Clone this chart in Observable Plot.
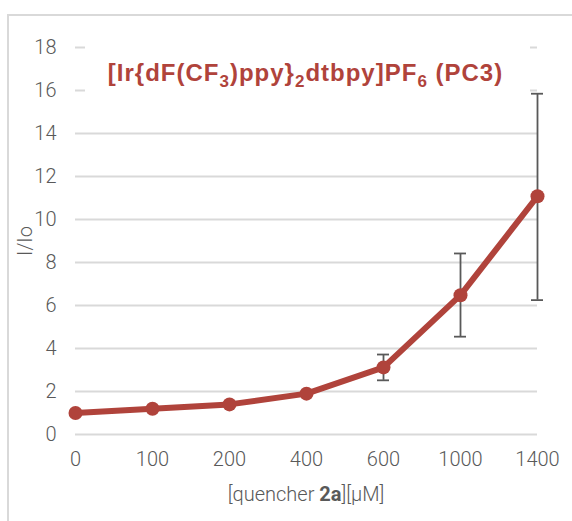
<!DOCTYPE html>
<html><head><meta charset="utf-8">
<script src="https://cdn.jsdelivr.net/npm/d3@7"></script>
<script src="https://cdn.jsdelivr.net/npm/@observablehq/plot@0.6"></script>
<style>
html,body{margin:0;padding:0;background:#fff;}
#wrap{position:relative;width:572px;height:521px;overflow:hidden;}
#frame{position:absolute;left:7px;top:14px;width:600px;height:600px;border:2px solid #d9d9d9;box-sizing:border-box;}
#titlebg{position:absolute;left:85px;top:38px;width:445px;height:62px;background:#fff;}
#title{position:absolute;left:0;width:611px;top:59px;text-align:center;font-family:"Liberation Sans",Arial,sans-serif;font-weight:bold;font-size:24px;letter-spacing:1px;color:#B0433B;white-space:nowrap;}
#title sub{font-size:17px;vertical-align:-6px;line-height:0;}
#xtitle{position:absolute;left:0;width:612px;top:482px;text-align:center;font-family:Roboto,sans-serif;font-weight:300;font-size:20px;color:#595959;}
#ytitle{position:absolute;left:25px;top:241px;transform:translate(-50%,-50%) rotate(-90deg);font-family:Roboto,sans-serif;font-weight:300;font-size:20px;color:#595959;white-space:nowrap;}
svg{position:absolute;left:0;top:0;}
</style></head>
<body><div id="wrap"><div id="frame"></div></div>
<script>
const categories = ["0","100","200","400","600","1000","1400"];
const values = [1.0, 1.2, 1.4, 1.9, 3.12, 6.48, 11.08];
const errCategories = ["600","1000","1400"];
const errLow = [2.52, 4.55, 6.25];
const errHigh = [3.72, 8.42, 15.85];
const yTicks = [0,2,4,6,8,10,12,14,16,18];

const data = categories.map((c,i)=>({c, v: values[i]}));
const errs = errCategories.map((c,i)=>({c, lo: errLow[i], hi: errHigh[i]}));
const red = "#B0433B";

const chart = Plot.plot({
  width: 572, height: 521,
  marginLeft: 75, marginRight: 35, marginTop: 47, marginBottom: 87,
  style: {background: "transparent", fontFamily: "Roboto, sans-serif", fontWeight: 300, fontSize: "20px", color: "#595959"},
  x: {type: "point", domain: categories, padding: 0, label: null},
  y: {domain: [0,18], ticks: yTicks, label: null},
  marks: [
    Plot.ruleY(yTicks, {stroke: "#d9d9d9", strokeWidth: 2, strokeOpacity: 1}),
    Plot.axisX({tickSize: 0, tickPadding: 17, fontSize: 20, fill: "#595959"}),
    Plot.axisY({ticks: yTicks, tickSize: 0, tickPadding: 19, fontSize: 20, fill: "#595959"}),
    Plot.line(data, {x: "c", y: "v", stroke: red, strokeWidth: 6}),
    Plot.ruleX(errs, {x: "c", y1: "lo", y2: "hi", stroke: "#595959", strokeWidth: 1.8}),
    Plot.ruleY(errs, {x1: "c", x2: "c", y: "lo", stroke: "#595959", strokeWidth: 1.8, insetLeft: -6, insetRight: -6}),
    Plot.ruleY(errs, {x1: "c", x2: "c", y: "hi", stroke: "#595959", strokeWidth: 1.8, insetLeft: -6, insetRight: -6}),
    Plot.dot(data, {x: "c", y: "v", r: 7, fill: red, stroke: "none"})
  ]
});
const wrap = document.getElementById("wrap");
wrap.appendChild(chart);
const bg = document.createElement("div"); bg.id = "titlebg"; wrap.appendChild(bg);
const t = document.createElement("div"); t.id = "title";
t.innerHTML = '[Ir{dF(CF<sub>3</sub>)ppy}<sub>2</sub>dtbpy]PF<sub>6</sub> (PC3)';
wrap.appendChild(t);
const xt = document.createElement("div"); xt.id = "xtitle";
xt.innerHTML = '[quencher <b style="font-weight:bold">2a</b>][µM]';
wrap.appendChild(xt);
const yt = document.createElement("div"); yt.id = "ytitle";
yt.textContent = "I/Io";
wrap.appendChild(yt);
</script>
</body></html>
